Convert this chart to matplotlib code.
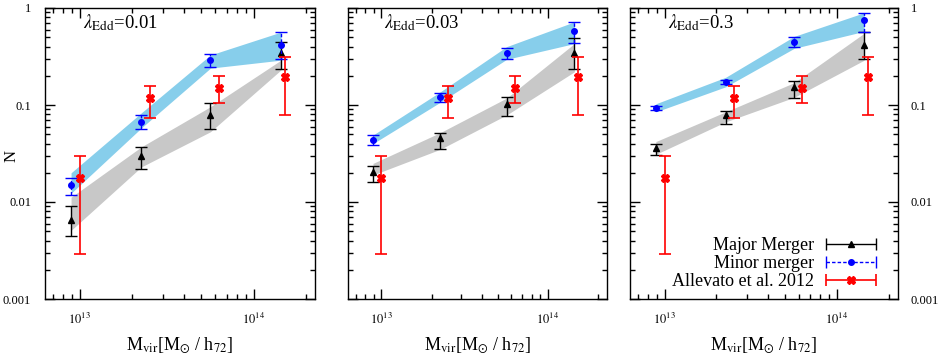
import matplotlib
matplotlib.use("Agg")
import matplotlib.pyplot as plt
import numpy as np
from matplotlib.ticker import LogLocator, NullFormatter, FixedLocator, FixedFormatter
from matplotlib.legend_handler import HandlerErrorbar

plt.rcParams['font.family'] = ['Liberation Serif', 'DejaVu Serif']
plt.rcParams['mathtext.fontset'] = 'stix'

# ---- data ----
lambda_labels = ["0.01", "0.03", "0.3"]

mass_sim = [8.9e12, 2.26e13, 5.65e13, 1.44e14]
mass_obs = [1.0e13, 2.52e13, 6.3e13, 1.52e14]

# Allevato et al. 2012 (same in all panels)
obs_val = [0.0175, 0.117, 0.149, 0.193]
obs_lo = [0.0029, 0.073, 0.106, 0.078]
obs_hi = [0.030, 0.157, 0.200, 0.310]

# Minor merger points (per panel)
minor_val = [[0.0148, 0.067, 0.29, 0.415],
             [0.0435, 0.12, 0.346, 0.58],
             [0.0925, 0.174, 0.45, 0.75]]
minor_lo = [[0.0119, 0.057, 0.248, 0.296],
            [0.039, 0.107, 0.30, 0.44],
            [0.088, 0.166, 0.40, 0.56]]
minor_hi = [[0.0177, 0.078, 0.333, 0.56],
            [0.049, 0.134, 0.39, 0.71],
            [0.097, 0.182, 0.50, 0.895]]
# Minor merger bands
minor_band_lo = [[0.0123, 0.058, 0.24, 0.29],
                 [0.040, 0.107, 0.296, 0.43],
                 [0.085, 0.154, 0.384, 0.575]]
minor_band_hi = [[0.020, 0.083, 0.328, 0.565],
                 [0.049, 0.137, 0.40, 0.72],
                 [0.103, 0.193, 0.51, 0.895]]

# Major merger points
major_val = [[0.0065, 0.0298, 0.078, 0.34],
             [0.0205, 0.0453, 0.102, 0.346],
             [0.0357, 0.078, 0.152, 0.42]]
major_lo = [[0.0045, 0.022, 0.056, 0.233],
            [0.0162, 0.035, 0.077, 0.233],
            [0.0305, 0.063, 0.117, 0.296]]
major_hi = [[0.0091, 0.037, 0.104, 0.45],
            [0.0237, 0.052, 0.122, 0.487],
            [0.0396, 0.087, 0.177, 0.56]]
# Major merger bands
major_band_lo = [[0.0051, 0.023, 0.053, 0.23],
                 [0.019, 0.035, 0.079, 0.22],
                 [0.031, 0.067, 0.12, 0.29]]
major_band_hi = [[0.0112, 0.037, 0.096, 0.29],
                 [0.025, 0.052, 0.118, 0.43],
                 [0.042, 0.085, 0.17, 0.55]]

ytick_vals = [0.001, 0.01, 0.1, 1]
ytick_labels = ["0.001", "0.01", "0.1", "1"]
xtick_vals = [1e13, 1e14]
xtick_labels = [r"$10^{13}$", r"$10^{14}$"]

# ---- figure ----
W, H = 943, 359
fig = plt.figure(figsize=(W / 100, H / 100), dpi=100)

top_px, bot_px = 8, 299
panels_px = [(45, 270), (348, 259), (630, 268)]

def yerr(v, lo, hi):
    v = np.array(v); lo = np.array(lo); hi = np.array(hi)
    return np.vstack([v - lo, hi - v])

DASH = (0, (2.5, 1.5))

for i, (lpx, wpx) in enumerate(panels_px):
    ax = fig.add_axes([lpx / W, (H - bot_px) / H, wpx / W, (bot_px - top_px) / H])
    ax.set_xscale('log')
    ax.set_yscale('log')
    ax.set_xlim(6.3e12, 2.26e14)
    ax.set_ylim(0.001, 1)

    ax.fill_between(mass_sim, major_band_lo[i], major_band_hi[i], color='#c8c8c8', lw=0, zorder=1)
    ax.fill_between(mass_sim, minor_band_lo[i], minor_band_hi[i], color='#87ceeb', lw=0, zorder=2)

    ax.errorbar(mass_sim, major_val[i], yerr=yerr(major_val[i], major_lo[i], major_hi[i]),
                fmt='^', color='black', ms=5, capsize=4, elinewidth=1, capthick=1, zorder=4)
    h2 = ax.errorbar(mass_sim, minor_val[i], yerr=yerr(minor_val[i], minor_lo[i], minor_hi[i]),
                     fmt='o', color='blue', ms=4, capsize=4, elinewidth=1, capthick=1, zorder=5)
    for c in h2[2]:
        c.set_linestyle(DASH)
    ax.errorbar(mass_obs, obs_val, yerr=yerr(obs_val, obs_lo, obs_hi),
                fmt='X', color='red', ms=6, capsize=4, elinewidth=1.2, capthick=1.2, zorder=6)

    ax.xaxis.set_major_locator(FixedLocator(xtick_vals))
    ax.xaxis.set_major_formatter(FixedFormatter(xtick_labels))
    ax.xaxis.set_minor_locator(LogLocator(base=10, subs=np.arange(2, 10)))
    ax.xaxis.set_minor_formatter(NullFormatter())
    ax.yaxis.set_major_locator(FixedLocator(ytick_vals))
    ax.yaxis.set_major_formatter(FixedFormatter(ytick_labels))
    ax.yaxis.set_minor_locator(LogLocator(base=10, subs=np.arange(2, 10)))
    ax.yaxis.set_minor_formatter(NullFormatter())

    ax.tick_params(which='both', direction='in', top=True, right=True, bottom=True, left=True,
                   width=1, labelsize=9)
    ax.tick_params(which='major', length=7)
    ax.tick_params(which='minor', length=3.5)
    ax.tick_params(axis='x', pad=9)
    ax.tick_params(axis='y', pad=10)
    if i == 0:
        ax.tick_params(axis='y', labelleft=True, labelright=False)
    elif i == 1:
        ax.tick_params(axis='y', labelleft=False, labelright=False)
    else:
        ax.tick_params(axis='y', labelleft=False, labelright=True, pad=9)
    for s in ax.spines.values():
        s.set_linewidth(1)

    ax.text(0.14, 0.985, r"$\lambda_{\rm Edd}$=" + lambda_labels[i], transform=ax.transAxes,
            ha='left', va='top', fontsize=13.5)

    cx = (lpx + wpx / 2) / W
    fig.text(cx, 1 - 345 / H, r"M$_{\rm vir}$[M$_{\odot}$ / h$_{72}$]", ha='center', va='center',
             fontsize=13)

    if i == 2:
        # legend proxies with horizontal error bars
        p1 = ax.errorbar([np.nan], [np.nan], xerr=[1], fmt='^', color='black', ms=5,
                         capsize=4, elinewidth=1, capthick=1, label='Major Merger')
        p2 = ax.errorbar([np.nan], [np.nan], xerr=[1], fmt='o', color='blue', ms=4,
                         capsize=4, elinewidth=1, capthick=1, label='Minor merger')
        for c in p2[2]:
            c.set_linestyle(DASH)
        p3 = ax.errorbar([np.nan], [np.nan], xerr=[1], fmt='X', color='red', ms=6,
                         capsize=4, elinewidth=1.2, capthick=1.2, label='Allevato et al. 2012')
        hm = HandlerErrorbar(xerr_size=1.4, numpoints=1)
        ax.legend(handles=[p1, p2, p3], loc='lower right', frameon=False, markerfirst=False,
                  fontsize=13, handlelength=2.9, labelspacing=0.05, borderaxespad=0.2,
                  borderpad=0.3, handletextpad=0.6,
                  bbox_to_anchor=(1 - 12 / wpx, 0.0),
                  handler_map={p1: hm, p2: hm, p3: hm})

fig.text(12 / W, 1 - 156 / H, "N", rotation=90, ha='center', va='center', fontsize=12)

fig.savefig("out.png", dpi=100)
